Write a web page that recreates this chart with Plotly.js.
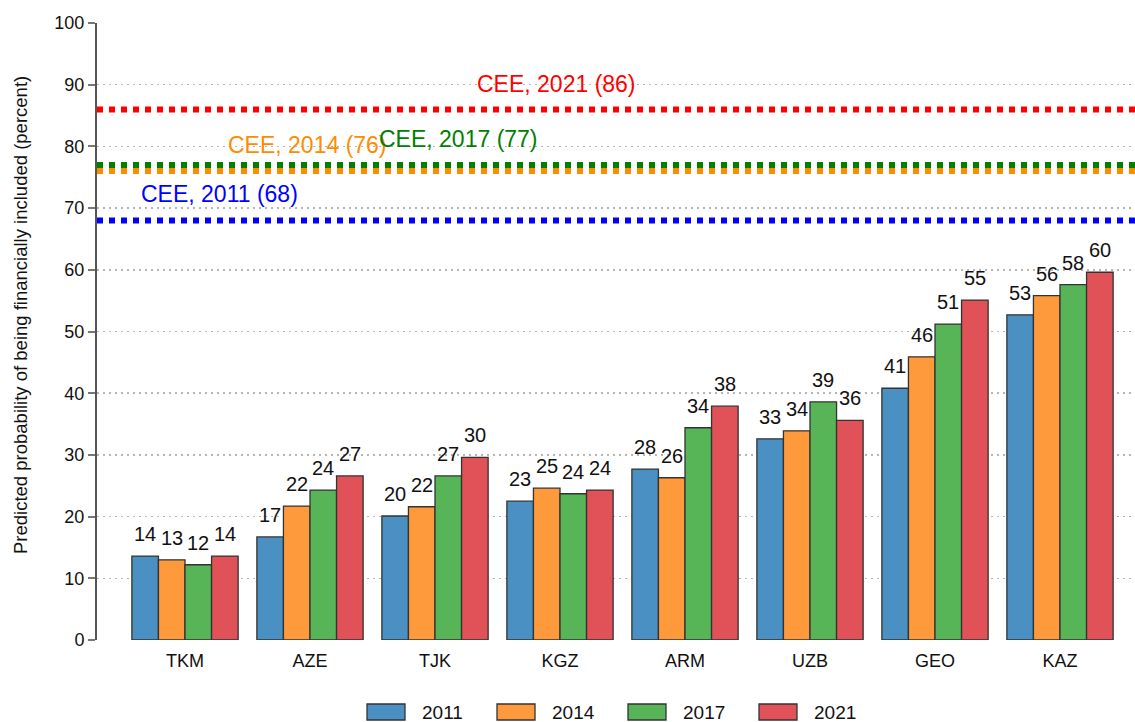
<!DOCTYPE html>
<html>
<head>
<meta charset="utf-8">
<script src="https://cdn.plot.ly/plotly-3.0.1.min.js"></script>
<style>html,body{margin:0;padding:0;background:#fff;}#chart{width:1135px;height:722px;}</style>
</head>
<body>
<div id="chart"></div>
<script>
// ---- data ----
var categories = ["TKM", "AZE", "TJK", "KGZ", "ARM", "UZB", "GEO", "KAZ"];
var years = ["2011", "2014", "2017", "2021"];
var values2011 = [13.6, 16.7, 20.1, 22.5, 27.7, 32.6, 40.8, 52.7];
var values2014 = [13.0, 21.7, 21.6, 24.6, 26.3, 33.9, 45.9, 55.8];
var values2017 = [12.2, 24.3, 26.6, 23.7, 34.4, 38.6, 51.2, 57.6];
var values2021 = [13.6, 26.6, 29.6, 24.3, 37.9, 35.6, 55.1, 59.6];
var ceeLabels = ["CEE, 2011 (68)", "CEE, 2014 (76)", "CEE, 2017 (77)", "CEE, 2021 (86)"];
var ceeValues = [68, 76, 77, 86];
var yTitle = "Predicted probability of being financially included (percent)";

// ---- styles ----
var barColors = ["#4A90C2", "#FF9A3C", "#57B457", "#E05257"];
var lineColors = ["#0000FF", "#FF8C00", "#008000", "#FF0000"];
var labelPos = [[0.272, 72.3], [0.976, 80.2], [2.184, 81.2], [2.968, 90.1]];
var FONT = "'Liberation Sans', Arial, sans-serif";

var series = [values2011, values2014, values2017, values2021];
var idx = categories.map(function (c, i) { return i; });
var BARGAP = 0.15;
var barW = (1 - BARGAP) / series.length;

var traces = series.map(function (vals, k) {
  return {
    type: "bar",
    name: years[k],
    x: idx,
    y: vals,
    marker: { color: barColors[k], line: { color: "#333333", width: 1.3 } },
    showlegend: false,
    hoverinfo: "skip"
  };
});

var L = 97, T = 23, W = 1135 - L, H = 640 - T;
function px2paperX(p) { return (p - L) / W; }
function px2paperY(p) { return (640 - p) / H; }

var shapes = [];
var annotations = [];
// value labels above bars
series.forEach(function (vals, k) {
  vals.forEach(function (v, i) {
    annotations.push({
      x: i + (k - (series.length - 1) / 2) * barW, y: v, xref: "x", yref: "y",
      text: String(Math.round(v)), showarrow: false, xanchor: "center", yanchor: "bottom",
      yshift: 9, font: { family: FONT, size: 20, color: "#111" }
    });
  });
});
// CEE reference lines
[0, 1, 2, 3].forEach(function (k) {
  shapes.push({
    type: "line", xref: "paper", yref: "y", x0: 0, x1: 1, y0: ceeValues[k], y1: ceeValues[k],
    line: { color: lineColors[k], width: 6, dash: "dot" }, layer: "above"
  });
  annotations.push({
    x: labelPos[k][0], y: labelPos[k][1], xref: "x", yref: "y", text: ceeLabels[k],
    showarrow: false, xanchor: "center", yanchor: "middle",
    font: { family: FONT, size: 23, color: lineColors[k] }
  });
});
// y-axis title
annotations.push({
  xref: "paper", yref: "paper", x: px2paperX(20), y: px2paperY(315),
  text: yTitle, textangle: -90, showarrow: false, xanchor: "center", yanchor: "middle",
  font: { family: FONT, size: 18.5, color: "#111" }
});
// legend (custom)
var legX = [367, 497, 628, 759];
years.forEach(function (y, k) {
  shapes.push({
    type: "rect", xref: "paper", yref: "paper",
    x0: px2paperX(legX[k]), x1: px2paperX(legX[k] + 38),
    y0: px2paperY(704), y1: px2paperY(720),
    fillcolor: barColors[k], line: { color: "#333", width: 1.3 }
  });
  annotations.push({
    xref: "paper", yref: "paper", x: px2paperX(legX[k] + 53), y: px2paperY(712),
    xanchor: "left", yanchor: "middle", showarrow: false, text: y,
    font: { family: FONT, size: 19, color: "#111" }
  });
});

var layout = {
  width: 1135, height: 722,
  margin: { l: L, r: 0, t: T, b: 722 - 640 },
  paper_bgcolor: "#fff", plot_bgcolor: "#fff",
  barmode: "group", bargap: BARGAP, bargroupgap: 0,
  showlegend: false,
  xaxis: {
    range: [-0.704, -0.704 + W / 125],
    tickvals: idx, ticktext: categories,
    showgrid: false, zeroline: false, showline: false, ticks: "",
    ticklabelstandoff: 8,
    tickfont: { family: FONT, size: 18, color: "#111" },
    fixedrange: true
  },
  yaxis: {
    range: [0, 100], tickvals: [0, 10, 20, 30, 40, 50, 60, 70, 80, 90, 100],
    showgrid: true, gridcolor: "#b5b5b5", gridwidth: 1.5, griddash: "1.5px,4.5px",
    zeroline: false, showline: true, linecolor: "#555", linewidth: 2,
    ticks: "outside", ticklen: 7, tickcolor: "#777", tickwidth: 2,
    tickfont: { family: FONT, size: 18, color: "#111" },
    automargin: false, fixedrange: true
  },
  shapes: shapes,
  annotations: annotations
};

Plotly.newPlot("chart", traces, layout, { displayModeBar: false, staticPlot: true });
</script>
</body>
</html>
